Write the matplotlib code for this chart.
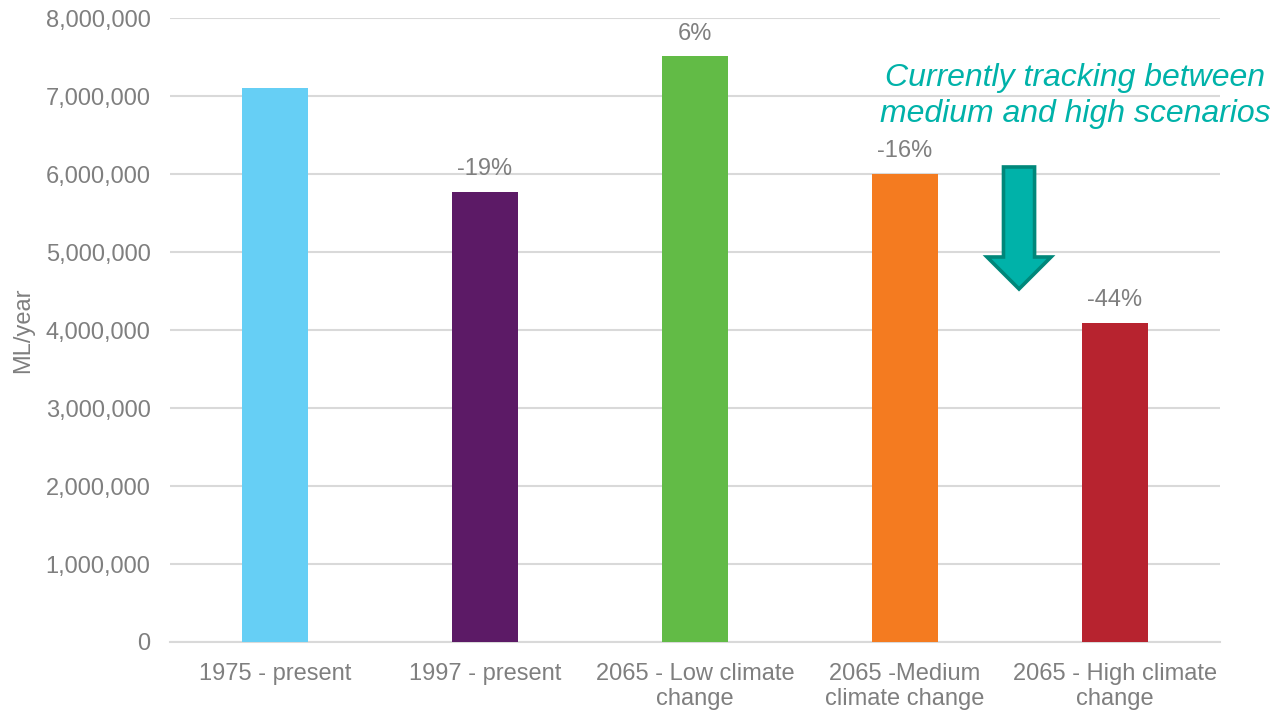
import matplotlib.pyplot as plt
import matplotlib.patches as mpatches
from matplotlib.ticker import FuncFormatter

plt.rcParams['font.family'] = ['Liberation Sans', 'DejaVu Sans']

# data
categories = ['1975 - present', '1997 - present', '2065 - Low climate\nchange',
              '2065 -Medium\nclimate change', '2065 - High climate\nchange']
values = [7100000, 5770000, 7510000, 6000000, 4090000]
pct_labels = ['', '-19%', '6%', '-16%', '-44%']
colors = ['#66cff5', '#5c1a66', '#62bb46', '#f47b20', '#b7232f']

gray = '#7f7f7f'
teal = '#00b2a9'

fig = plt.figure(figsize=(12.71, 7.10), dpi=100)
ax = fig.add_axes([170 / 1271, 68 / 710, 1050 / 1271, 624 / 710])

x = range(len(categories))
ax.bar(x, values, width=0.315, color=colors, zorder=3)

for i, (v, lab) in enumerate(zip(values, pct_labels)):
    if lab:
        ax.text(i, v + 150000, lab, ha='center', va='bottom', fontsize=17, color=gray)

ax.set_xlim(-0.5, len(categories) - 0.5)
ax.set_ylim(0, 8000000)
ax.set_yticks(range(0, 8000001, 1000000))
ax.yaxis.set_major_formatter(FuncFormatter(lambda v, p: f'{int(v):,}'))
ax.set_xticks(list(x))
ax.set_xticklabels(categories, fontsize=17, color=gray, linespacing=1.2)
ax.tick_params(axis='y', labelsize=17, labelcolor=gray, length=0, pad=14)
ax.tick_params(axis='x', length=0, pad=15)
ax.grid(axis='y', color='#d9d9d9', linewidth=1.5, zorder=0)
for s in ['top', 'right', 'left']:
    ax.spines[s].set_visible(False)
ax.spines['bottom'].set_color('#d9d9d9')
ax.spines['bottom'].set_linewidth(1.5)
ax.set_ylabel('ML/year', fontsize=17, color=gray, labelpad=8)

# down arrow between medium and high scenario
arrow = mpatches.FancyArrow(3.543, 6090000, 0, -1564000, width=0.148,
                            head_width=0.305, head_length=410000,
                            length_includes_head=True, facecolor=teal,
                            edgecolor='#00877a', linewidth=2.6, zorder=4)
ax.add_patch(arrow)

ax.text(3.81, 7.0e6, 'Currently tracking between\nmedium and high scenarios',
        ha='center', va='center', fontsize=23, color=teal, style='italic',
        linespacing=1.3)

fig.savefig('out.png', dpi=100)
